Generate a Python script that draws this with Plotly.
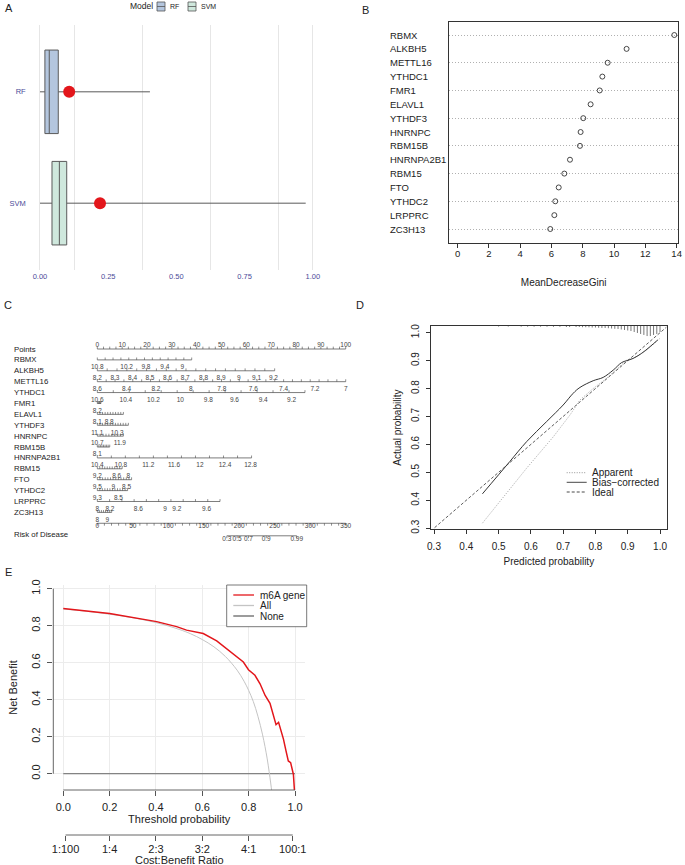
import plotly.graph_objects as go

W, H = 685, 865
FONT = "Liberation Sans, Arial, Helvetica, sans-serif"
INK = "#222222"


def fx(p):
    return p / W


def fy(p):
    return 1 - p / H


# ---------------- A: residual boxplots ----------------
a_models = ["RF", "SVM"]
a_q1 = [0.018, 0.044]
a_median = [0.034, 0.071]
a_q3 = [0.067, 0.098]
a_lower = [0.0, 0.0]
a_upper = [0.403, 0.974]
a_mean = [0.107, 0.220]
a_fill = ["#b4c6de", "#cfe8dd"]

# ---------------- B: variable importance ----------------
b_genes = ["RBMX", "ALKBH5", "METTL16", "YTHDC1", "FMR1", "ELAVL1", "YTHDF3", "HNRNPC",
           "RBM15B", "HNRNPA2B1", "RBM15", "FTO", "YTHDC2", "LRPPRC", "ZC3H13"]
b_gini = [13.85, 10.80, 9.59, 9.25, 9.08, 8.50, 8.03, 7.86, 7.82, 7.18, 6.82, 6.46, 6.24, 6.18, 5.92]

# ---------------- C: nomogram (positions on the 0-100 points scale) ----------------
nomo_names = ["Points", "RBMX", "ALKBH5", "METTL16", "YTHDC1", "FMR1", "ELAVL1", "YTHDF3",
              "HNRNPC", "RBM15B", "HNRNPA2B1", "RBM15", "FTO", "YTHDC2", "LRPPRC", "ZC3H13"]
nomo_line_end = [100, 38, 71.4, 100, 83.6, 1.5, 10.5, 12.5, 10.5, 5.0, 62.1, 10.0, 13.8, 12.2, 49.4, 5.8]
nomo_n_ticks = [41, 13, 19, 29, 14, 6, 11, 13, 10, 9, 12, 11, 14, 13, 11, 8]
nomo_lab_txt = [
    ["0", "10", "20", "30", "40", "50", "60", "70", "80", "90", "100"],
    [],
    ["10.8", "10.2", "9.8", "9.4", "9"],
    ["8.2", "8.3", "8.4", "8.5", "8.6", "8.7", "8.8", "8.9", "9", "9.1", "9.2"],
    ["8.6", "8.4", "8.2", "8", "7.8", "7.6", "7.4", "7.2", "7"],
    ["10.6", "10.4", "10.2", "10", "9.8", "9.6", "9.4", "9.2"],
    ["8.2"],
    ["8.1", "8.8"],
    ["11.1", "10.3"],
    ["10.7", "11.9"],
    ["8.1"],
    ["10.4", "10.8", "11.2", "11.6", "12", "12.4", "12.8"],
    ["9.2", "8.6", "8"],
    ["9.5", "9", "8.5"],
    ["9.3", "8.5"],
    ["8", "8.2", "8.6", "9", "9.2", "9.6"],
]
nomo_lab_pts = [
    [0, 10, 20, 30, 40, 50, 60, 70, 80, 90, 100],
    [],
    [0, 11.8, 19.6, 27.2, 34.2],
    [0, 7.1, 14.2, 21.2, 28.3, 35.4, 42.8, 49.8, 57.0, 64.1, 70.9],
    [0, 11.8, 23.6, 37.6, 50.1, 62.8, 75.0, 87.6, 100],
    [0, 11.5, 22.6, 33.4, 44.7, 55.2, 66.8, 78.2],
    [0],
    [0, 4.8],
    [0, 8.0],
    [0, 9.1],
    [0],
    [0, 9.5, 20.5, 30.9, 41.3, 51.4, 61.7],
    [0, 7.8, 12.5],
    [0, 6.4, 11.8],
    [0, 8.5],
    [0, 5.1, 16.5, 27.3, 32.0, 44.0],
]
extra_lab_txt = ["8", "9"]
extra_lab_pts = [0, 4.0]
total_max = 350
total_lab = [0, 50, 100, 150, 200, 250, 300, 350]
total_n_ticks = 36
risk_lab = ["0.3", "0.5", "0.7", "0.9", "0.99"]
risk_total = [182.5, 197.0, 213.0, 238.0, 281.0]

# ---------------- D: calibration ----------------
apparent_x = [0.45, 0.515, 0.587, 0.67, 0.721, 0.752, 0.793, 0.835, 0.876, 0.897, 0.917, 0.959, 1.0]
apparent_y = [0.318, 0.413, 0.515, 0.628, 0.705, 0.759, 0.800, 0.837, 0.878, 0.902, 0.908, 0.938, 0.980]
bias_x = [0.45, 0.535, 0.587, 0.649, 0.70, 0.731, 0.752, 0.793, 0.824, 0.855, 0.881, 0.897,
          0.917, 0.943, 0.969, 0.993]
bias_y = [0.423, 0.539, 0.610, 0.682, 0.741, 0.783, 0.804, 0.828, 0.840, 0.866, 0.893, 0.900,
          0.908, 0.926, 0.950, 0.974]
ideal_x = [0.29, 1.02]
ideal_y = [0.29, 1.02]
rug_x = [0.50, 0.53, 0.57, 0.59, 0.61, 0.63, 0.65, 0.67, 0.69, 0.71, 0.72, 0.74, 0.75, 0.76,
         0.77, 0.78, 0.79, 0.80, 0.81, 0.82, 0.83, 0.84, 0.85, 0.86, 0.87, 0.88, 0.89, 0.90,
         0.91, 0.92, 0.93, 0.94, 0.95, 0.96, 0.97, 0.98, 0.99, 1.00]
rug_h = [0.002, 0.002, 0.0025, 0.0025, 0.0025, 0.0025, 0.0025, 0.003, 0.003, 0.0036, 0.0036,
         0.0036, 0.0036, 0.0043, 0.0043, 0.0047, 0.0054, 0.0054, 0.0064, 0.0071, 0.0071, 0.0079,
         0.009, 0.010, 0.0107, 0.0125, 0.0143, 0.016, 0.018, 0.0215, 0.025, 0.0286, 0.032,
         0.036, 0.036, 0.032, 0.0286, 0.0215]

# ---------------- E: decision curve ----------------
thr_model = [0, 0.2, 0.403, 0.489, 0.532, 0.604, 0.662, 0.705, 0.734, 0.777, 0.799, 0.827, 0.849,
             0.871, 0.892, 0.904, 0.918, 0.929, 0.938, 0.950, 0.961, 0.971, 0.981, 0.993, 0.998]
nb_model = [0.893, 0.866, 0.822, 0.795, 0.776, 0.758, 0.718, 0.677, 0.646, 0.604, 0.562, 0.532,
            0.486, 0.423, 0.381, 0.323, 0.265, 0.278, 0.241, 0.187, 0.123, 0.069, 0.060, -0.004, -0.10]
thr_all = [0, 0.1, 0.2, 0.3, 0.4, 0.5, 0.55, 0.6, 0.65, 0.7, 0.75, 0.78, 0.8, 0.82, 0.84, 0.86,
           0.88, 0.895, 0.90]
nb_all = [0.89, 0.878, 0.862, 0.843, 0.817, 0.78, 0.756, 0.725, 0.686, 0.633, 0.56, 0.50, 0.45,
          0.39, 0.31, 0.21, 0.08, -0.05, -0.10]
thr_none = [0, 1]
nb_none = [0, 0]
cb_thr = [0.0099, 0.2, 0.4, 0.6, 0.8, 0.99]
cb_lab = ["1:100", "1:4", "2:3", "3:2", "4:1", "100:1"]

fig = go.Figure()
annotations = []
shapes = []


def note(text, x, y, size, xanchor="left", color=INK, xref="paper", yref="paper"):
    annotations.append(dict(text=text, x=x, y=y, xref=xref, yref=yref, xanchor=xanchor,
                            yanchor="middle", showarrow=False, font=dict(size=size, color=color)))


# ===== A =====
for i, m in enumerate(a_models):
    fig.add_trace(go.Box(
        y=[m], q1=[a_q1[i]], median=[a_median[i]], q3=[a_q3[i]],
        lowerfence=[a_lower[i]], upperfence=[a_upper[i]], orientation="h",
        fillcolor=a_fill[i], line=dict(color="#5a5a5a", width=1), whiskerwidth=0,
        width=0.75, xaxis="x", yaxis="y", hoverinfo="skip", showlegend=False))
fig.add_trace(go.Scatter(x=a_mean, y=a_models, mode="markers", xaxis="x", yaxis="y",
                         marker=dict(size=12, color="#e3161b"), showlegend=False))

# A legend (drawn by hand: "Model" + two box keys)
note("Model", fx(128), fy(6), 8.5)
for i, (m, x0) in enumerate(zip(a_models, [157, 188])):
    shapes.append(dict(type="rect", xref="paper", yref="paper", x0=fx(x0), x1=fx(x0 + 8),
                       y0=fy(11), y1=fy(2), fillcolor=a_fill[i], line=dict(color="#555", width=0.8)))
    shapes.append(dict(type="line", xref="paper", yref="paper", x0=fx(x0), x1=fx(x0 + 8),
                       y0=fy(6.5), y1=fy(6.5), line=dict(color="#555", width=0.8)))
    note(m, fx(x0 + 11), fy(6.5), 7)

# ===== B =====
fig.add_trace(go.Scatter(x=b_gini, y=b_genes, mode="markers", xaxis="x2", yaxis="y2",
                         marker=dict(symbol="circle-open", size=5, color="#333", line=dict(width=0.9)),
                         cliponaxis=False, showlegend=False))
for g in b_genes:
    note(g, fx(388), g, 9.5, yref="y2")

# ===== C =====
TK = 0.22
line_x, line_y, tick_x, tick_y = [], [], [], []
up_x, up_y, up_t = [], [], []
for r, (end, n) in enumerate(zip(nomo_line_end, nomo_n_ticks)):
    line_x += [0, end, None]
    line_y += [r, r, None]
    for k in range(n):
        t = end * k / (n - 1)
        tick_x += [t, t, None]
        tick_y += [r, r - TK, None]
    up_x += nomo_lab_pts[r]
    up_y += [r] * len(nomo_lab_pts[r])
    up_t += nomo_lab_txt[r]
    note(nomo_names[r], fx(12), r, 7.8, yref="y3")

ROW_TOT = 16
ROW_RISK = 17.15
scale = 100 / total_max
up_x += extra_lab_pts
up_y += [ROW_TOT] * len(extra_lab_pts)
up_t += extra_lab_txt

dn_x, dn_y, dn_t = [], [], []
line_x += [0, total_max * scale, None]
line_y += [ROW_TOT, ROW_TOT, None]
for k in range(total_n_ticks):
    t = total_max * scale * k / (total_n_ticks - 1)
    tick_x += [t, t, None]
    tick_y += [ROW_TOT, ROW_TOT + TK, None]
dn_x += [v * scale for v in total_lab]
dn_y += [ROW_TOT] * len(total_lab)
dn_t += [str(v) for v in total_lab]

line_x += [risk_total[0] * scale, risk_total[-1] * scale, None]
line_y += [ROW_RISK, ROW_RISK, None]
for v in risk_total:
    tick_x += [v * scale, v * scale, None]
    tick_y += [ROW_RISK, ROW_RISK + TK, None]
dn_x += [v * scale for v in risk_total]
dn_y += [ROW_RISK] * len(risk_total)
dn_t += risk_lab
note("Risk of Disease", fx(12), 17.0, 7.8, yref="y3")

fig.add_trace(go.Scatter(x=line_x, y=line_y, mode="lines", xaxis="x3", yaxis="y3",
                         line=dict(color="#444", width=0.7), showlegend=False, hoverinfo="skip"))
fig.add_trace(go.Scatter(x=tick_x, y=tick_y, mode="lines", xaxis="x3", yaxis="y3",
                         line=dict(color="#444", width=0.6), showlegend=False, hoverinfo="skip"))
fig.add_trace(go.Scatter(x=up_x, y=up_y, text=up_t, mode="text", textposition="top center",
                         textfont=dict(size=6.5, color="#444"), xaxis="x3", yaxis="y3",
                         showlegend=False, hoverinfo="skip"))
fig.add_trace(go.Scatter(x=dn_x, y=dn_y, text=dn_t, mode="text", textposition="bottom center",
                         textfont=dict(size=6.5, color="#444"), xaxis="x3", yaxis="y3",
                         showlegend=False, hoverinfo="skip"))

# ===== D =====
D_YR = [0.296, 1.024]
fig.add_trace(go.Scatter(x=ideal_x, y=ideal_y, mode="lines", xaxis="x4", yaxis="y4",
                         line=dict(color="#333", width=0.8, dash="3px,2px"), showlegend=False))
fig.add_trace(go.Scatter(x=apparent_x, y=apparent_y, mode="lines", xaxis="x4", yaxis="y4",
                         line=dict(color="#8a8a8a", width=0.8, dash="1px,1.5px"), showlegend=False))
fig.add_trace(go.Scatter(x=bias_x, y=bias_y, mode="lines", xaxis="x4", yaxis="y4",
                         line=dict(color="#333", width=1, shape="spline"), showlegend=False))
rx, ry = [], []
for x, h in zip(rug_x, rug_h):
    rx += [x, x, None]
    ry += [D_YR[1], D_YR[1] - h, None]
fig.add_trace(go.Scatter(x=rx, y=ry, mode="lines", xaxis="x4", yaxis="y4",
                         line=dict(color="#555", width=0.8), showlegend=False, hoverinfo="skip"))

for txt, dash, col, py in [("Apparent", "1px,1.5px", "#8a8a8a", 472.7),
                           ("Bias\u2212corrected", "solid", "#333", 482.3),
                           ("Ideal", "3px,2px", "#333", 492.0)]:
    shapes.append(dict(type="line", xref="paper", yref="paper", x0=fx(566.7), x1=fx(586.7),
                       y0=fy(py), y1=fy(py), line=dict(color=col, width=0.9, dash=dash)))
    note(txt, fx(589.5), fy(py), 10)

# ===== E =====
fig.add_trace(go.Scatter(x=thr_none, y=nb_none, mode="lines", xaxis="x5", yaxis="y5",
                         line=dict(color="#666", width=1), showlegend=False))
fig.add_trace(go.Scatter(x=thr_all, y=nb_all, mode="lines", xaxis="x5", yaxis="y5",
                         line=dict(color="#c4c4c4", width=1, shape="spline"), showlegend=False))
fig.add_trace(go.Scatter(x=thr_model, y=nb_model, mode="lines", xaxis="x5", yaxis="y5",
                         line=dict(color="#e3161b", width=1.5), showlegend=False))
# keeps the cost:benefit axis alive
fig.add_trace(go.Scatter(x=[cb_thr[0]], y=[nb_none[0]], mode="markers", xaxis="x6", yaxis="y5",
                         marker=dict(opacity=0), showlegend=False, hoverinfo="skip"))

shapes.append(dict(type="line", xref="x5", yref="y5 domain", x0=0, x1=1, y0=0, y1=0,
                   line=dict(color="#555", width=0.9)))
shapes.append(dict(type="line", xref="x5 domain", yref="y5", x0=0, x1=0, y0=0, y1=1,
                   line=dict(color="#555", width=0.9)))
shapes.append(dict(type="line", xref="x5", yref="paper", x0=cb_thr[0], x1=cb_thr[-1],
                   y0=fy(835), y1=fy(835), line=dict(color="#555", width=0.9)))
annotations.append(dict(text="Cost:Benefit Ratio", x=0.5, y=fy(859.5), xref="x5", yref="paper",
                        xanchor="center", yanchor="middle", showarrow=False,
                        font=dict(size=11, color=INK)))
shapes.append(dict(type="rect", xref="paper", yref="paper", x0=fx(226.7), x1=fx(306.7),
                   y0=fy(626.7), y1=fy(585), line=dict(color="#555", width=0.8),
                   fillcolor="white"))
for txt, col, py in [("m6A gene", "#e3161b", 595.0), ("All", "#c4c4c4", 605.5), ("None", "#666", 616.0)]:
    shapes.append(dict(type="line", xref="paper", yref="paper", x0=fx(233.3), x1=fx(254),
                       y0=fy(py), y1=fy(py), line=dict(color=col, width=1.3)))
    note(txt, fx(258.3), fy(py), 10)

# panel letters
for t, x, y in [("A", 3, 8), ("B", 360, 10), ("C", 2, 305), ("D", 354, 305), ("E", 3, 572)]:
    note(t, fx(x), fy(y), 11)

fig.update_layout(
    width=W, height=H, template="none", showlegend=False,
    margin=dict(l=0, r=0, t=0, b=0), paper_bgcolor="white", plot_bgcolor="white",
    font=dict(family=FONT, color=INK, size=10),
    # A
    xaxis=dict(domain=[fx(26.7), fx(319)], range=[-0.0487, 1.0227], anchor="y",
               tickvals=[0, 0.25, 0.5, 0.75, 1.0], ticktext=["0.00", "0.25", "0.50", "0.75", "1.00"],
               showgrid=False, zeroline=False, showline=False, ticks="",
               tickfont=dict(size=7.5, color="#4b4b99"),
               minor=dict(tickmode="array", tickvals=[0, 0.125, 0.375, 0.625, 0.875, 1.0],
                          showgrid=True, gridcolor="#e6e6e6", gridwidth=1, ticks="")),
    yaxis=dict(domain=[fy(270), fy(25)], anchor="x", type="category",
               categoryorder="array", categoryarray=a_models, range=[1.6, -0.6],
               showgrid=False, zeroline=False, showline=False, ticks="",
               tickfont=dict(size=7.5, color="#4b4b99")),
    # B
    xaxis2=dict(domain=[fx(449), fx(678.3)], range=[-0.554, 14.106], anchor="y2",
                tickvals=list(range(0, 15, 2)), ticks="outside", ticklen=4, tickcolor="#333",
                showline=True, mirror=True, linecolor="#333", linewidth=0.8,
                showgrid=False, zeroline=False, tickfont=dict(size=9.5),
                ticklabelstandoff=-2,
                title=dict(text="MeanDecreaseGini", font=dict(size=10), standoff=20)),
    yaxis2=dict(domain=[fy(243), fy(22)], anchor="x2", type="category",
                categoryorder="array", categoryarray=b_genes, range=[15.01, -0.94],
                showticklabels=False, ticks="", showline=True, mirror=True,
                linecolor="#333", linewidth=0.8, showgrid=True, gridcolor="#b0b0b0",
                griddash="1px,2px", gridwidth=0.8, zeroline=False),
    # C
    xaxis3=dict(domain=[fx(5), fx(355)], range=[-37.16, 103.74], anchor="y3", visible=False),
    yaxis3=dict(domain=[fy(548), fy(338)], range=[18.27, -1.01], anchor="x3", visible=False),
    # D
    xaxis4=dict(domain=[fx(431), fx(666.7)], range=[0.2907, 1.0207], anchor="y4",
                tickvals=[0.3, 0.4, 0.5, 0.6, 0.7, 0.8, 0.9, 1.0], tickformat=".1f",
                ticks="outside", ticklen=4, tickcolor="#333", showline=True, mirror=True,
                linecolor="#333", linewidth=0.8, showgrid=False, zeroline=False,
                tickfont=dict(size=10), ticklabelstandoff=4,
                title=dict(text="Predicted probability", font=dict(size=10), standoff=6)),
    yaxis4=dict(domain=[fy(529.3), fy(326)], range=D_YR, anchor="x4",
                tickvals=[0.3, 0.4, 0.5, 0.6, 0.7, 0.8, 0.9, 1.0], tickformat=".1f",
                tickangle=-90, ticks="outside", ticklen=4, tickcolor="#333", showline=True,
                mirror=True, linecolor="#333", linewidth=0.8, showgrid=False, zeroline=False,
                tickfont=dict(size=10), ticklabelstandoff=3,
                title=dict(text="Actual probability", font=dict(size=10), standoff=6)),
    # E
    xaxis5=dict(domain=[fx(53.3), fx(305)], range=[-0.043, 1.043], anchor="y5",
                tickvals=[0, 0.2, 0.4, 0.6, 0.8, 1.0], tickformat=".1f",
                ticks="outside", ticklen=5, tickcolor="#555", showline=False,
                showgrid=True, gridcolor="#ececec", zeroline=False,
                tickfont=dict(size=11), ticklabelstandoff=2,
                title=dict(text="Threshold probability", font=dict(size=11), standoff=0)),
    yaxis5=dict(domain=[fy(790), fy(585)], range=[-0.088, 1.02], anchor="x5",
                tickvals=[0, 0.2, 0.4, 0.6, 0.8, 1.0], tickformat=".1f", tickangle=-90,
                ticks="outside", ticklen=5, tickcolor="#555", showline=False,
                showgrid=True, gridcolor="#ececec", zeroline=False,
                tickfont=dict(size=11), ticklabelstandoff=3,
                title=dict(text="Net Benefit", font=dict(size=11), standoff=10)),
    xaxis6=dict(overlaying="x5", anchor="free", position=fy(835), side="bottom",
                range=[-0.043, 1.043], tickvals=cb_thr, ticktext=cb_lab,
                ticks="outside", ticklen=5, tickcolor="#555", showline=False,
                showgrid=False, zeroline=False, tickfont=dict(size=11), ticklabelstandoff=-1),
    annotations=annotations,
    shapes=shapes,
)

# the page body has an 8px default margin; drop it so the figure fills the window
fig.write_html("out.html", config={"displayModeBar": False},
               post_script="document.body.style.margin='0';")
